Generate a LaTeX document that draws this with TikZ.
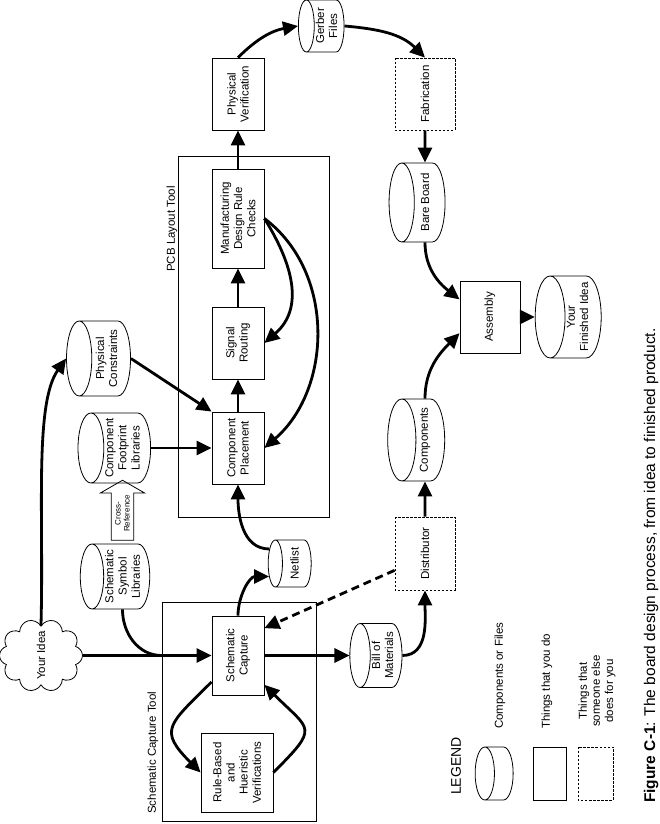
\documentclass[tikz,border=0pt]{standalone}
\usepackage{fontspec}
\setmainfont{Liberation Sans}
\usetikzlibrary{shapes.geometric,shapes.symbols,shapes.arrows,arrows.meta}

\begin{document}
\begin{tikzpicture}[x=1pt, y=1pt, rotate=90, transform shape,
        every node/.style={font=\fontsize{11.5}{13.2}\selectfont, align=center, inner sep=1pt},
        box/.style={draw, line width=0.8pt, minimum width=72, minimum height=52},
        vendor/.style={box, dash pattern=on 2.5pt off 1.5pt, minimum height=60},
        store/.style={draw, line width=0.8pt, cylinder, shape border rotate=90, aspect=0.42},
        tool/.style={draw, line width=0.8pt},
        xref/.style={single arrow, draw, line width=0.8pt, minimum height=60, single arrow head extend=11,
            single arrow tip angle=120, inner sep=3.5pt, font=\fontsize{8}{9}\selectfont},
        flow/.style={line width=2.8pt, -{Triangle[length=15pt, width=14pt]}}]
    % page frame (drawn sideways)
    \useasboundingbox (0,0) rectangle (824,660);

    % Tool frames
    \node[tool, minimum width=219, minimum height=154] (captool) at (112.5,421) {};
    \node[tool, minimum width=361, minimum height=151] (pcbtool) at (487.5,406.5) {};
    \node[anchor=west] (captitle) at (9,507) {Schematic Capture Tool};
    \node[anchor=west] (pcbtitle) at (551,488) {PCB Layout Tool};

    % Things that you do
    \node[cloud, cloud puffs=10, cloud ignores aspect, draw, line width=0.8pt, minimum width=73, minimum height=83] (idea) at (168.5,619) {Your Idea};
    \node[box, minimum width=79] (cap) at (168.5,422) {Schematic\\Capture};
    \node[box, minimum width=79, minimum height=72] (rules) at (51.5,423) {Rule-Based\\and\\Hueristic\\Verifications};
    \node[box] (place) at (376,422) {Component\\Placement};
    \node[box] (route) at (481,422) {Signal\\Routing};
    \node[box, minimum width=99] (drc) at (605.5,422) {Manufacturing\\Design Rule\\Checks};
    \node[box] (verify) at (730,422) {Physical\\Verification};
    \node[box, minimum height=60] (assembly) at (507,170) {Assembly};

    % Things that someone else does
    \node[vendor, minimum width=73] (dist) at (270.5,235) {Distributor};
    \node[vendor] (fab) at (730,235) {Fabrication};

    % Components or files
    \node[store, minimum width=65, minimum height=61] (symlib) at (247.5,537.5) {Schematic\\Symbol\\Libraries};
    \node[store, minimum width=70, minimum height=60] (footlib) at (376,537.5) {Component\\Footprint\\Libraries};
    \node[store, minimum width=75, minimum height=64] (constr) at (465.5,553.5) {Physical\\Constraints};
    \node[store, minimum width=47, minimum height=43] (netlist) at (260.5,365.5) {Netlist};
    \node[store, minimum width=52, minimum height=45] (gerber) at (798,333.5) {Gerber\\Files};
    \node[store, minimum width=64, minimum height=48] (bom) at (168.5,277.5) {Bill of\\Materials};
    \node[store, minimum width=82, minimum height=57] (parts) at (384,235) {Components};
    \node[store, minimum width=79, minimum height=56] (board) at (621.5,235) {Bare Board};
    \node[store, minimum width=82, minimum height=66] (done) at (507,82.5) {Your\\Finished Idea};
    \node[xref] (link) at (310.5,537.5) {Cross-\\Reference};

    % Schematic capture
    \coordinate (merge) at (cap.north |- captool.north);
    \draw[flow] (idea.south) -- (cap.north);
    \draw[line width=2.8pt] (symlib.west) to[out=180, in=90] (merge);
    \draw[flow] (cap.135) to[out=135, in=45, looseness=1.7] (rules.north);
    \draw[flow] (rules.south) to[out=-45, in=-135, looseness=1.9] (cap.222);
    \draw[flow] (cap.south) -- (bom.north);
    \draw[flow] (cap.east) to[out=0, in=90] (netlist.117);
    \draw[flow, dash pattern=on 8pt off 5pt] (dist.119) -- (cap.-44);

    % PCB layout
    \draw[flow] (idea.east) .. controls +(110,-3) and +(-45,32) .. (constr.north);
    \draw[flow] (netlist.60) to[out=90, in=180] (place.west);
    \draw[flow] (footlib.south) -- (place.north);
    \draw[flow] (constr.south) -- (place.north east);
    \draw[flow] (place.east) -- (route.west);
    \draw[flow] (route.east) -- (drc.west);
    \draw[flow] (drc.south) to[out=-148, in=-49, looseness=1.1] (route.south);
    \draw[flow] (drc.south) to[out=-127, in=-49] (place.south);
    \draw[flow] (drc.east) -- (verify.west);

    % Manufacturing
    \draw[flow] (verify.east) to[out=-45, in=100] (gerber.north);
    \draw[flow] (gerber.south) to[out=-95, in=45] (fab.east);
    \draw[flow] (fab.west) -- (board.east);
    \draw[flow] (board.west) to[out=180, in=52] (assembly.60);
    \draw[flow] (bom.south) to[out=-90, in=180] (dist.west);
    \draw[flow] (dist.east) -- (parts.west);
    \draw[flow] (parts.east) to[out=0, in=135] (assembly.118);
    \draw[flow] (assembly.south) -- (done.north);

    % Legend
    \node[font=\fontsize{14}{16}\selectfont] (legend) at (58,204) {LEGEND};
    \node[store, minimum width=53, minimum height=38] (keystore) at (50.5,159.5) {\rule{44pt}{0pt}};
    \node[box, minimum width=53, minimum height=33] (keybox) at (50.5,110.5) {};
    \node[vendor, minimum width=53, minimum height=35] (keyvendor) at (50.5,64.5) {};
    \node[anchor=west] (keystoretext) at (94,160) {Components or Files};
    \node[anchor=west] (keyboxtext) at (94,113) {Things that you do};
    \node[anchor=west] (keyvendortext) at (96,63) {Things that\\someone else\\does for you};

    % Caption
    \node[anchor=base west, font=\fontsize{15.5}{18}\selectfont] (caption) at (20,5) {\textbf{Figure C-1}: The board design process, from idea to finished product.};
\end{tikzpicture}
\end{document}
